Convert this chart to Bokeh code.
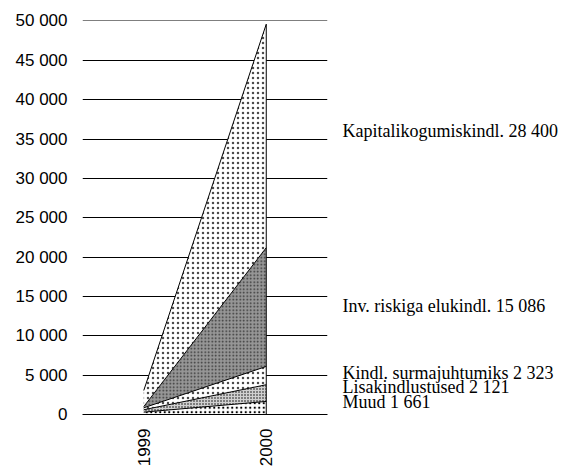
import numpy as np
from math import pi
from bokeh.plotting import figure
from bokeh.models import (Range1d, FactorRange, SingleIntervalTicker, CustomJSTickFormatter,
                          LinearAxis, FixedTicker, AllLabels)
from bokeh.embed import file_html
from bokeh.resources import INLINE

# ---- data ----
years = ["1999", "2000"]
series_names = ["Muud", "Lisakindlustused", "Kindl. surmajuhtumiks",
                "Inv. riskiga elukindl.", "Kapitalikogumiskindl."]
muud = [300, 1661]
lisakindlustused = [300, 2121]
surmajuhtumiks = [250, 2323]
inv_riskiga = [150, 15086]
kapitalikogumis = [2050, 28400]
y_ticks_max = 50000
y_tick_step = 5000

series = [muud, lisakindlustused, surmajuhtumiks, inv_riskiga, kapitalikogumis]

# styles (bottom -> top)
styles = [
    dict(fill_color="white", hatch_pattern="dot", hatch_color="black", hatch_scale=4.5, hatch_weight=2.4),
    dict(fill_color="#d0d0d0", hatch_pattern="dot", hatch_color="black", hatch_scale=3, hatch_weight=2.6),
    dict(fill_color="white", hatch_pattern="dot", hatch_color="#4a4a4a", hatch_scale=5, hatch_weight=3.4),
    dict(fill_color="#969696", hatch_pattern="dot", hatch_color="#333333", hatch_scale=3.5, hatch_weight=2.2),
    dict(fill_color="white", hatch_pattern="dot", hatch_color="#4a4a4a", hatch_scale=5, hatch_weight=3.4),
]

W, H = 567, 469
FRAME_TOP, FRAME_BOTTOM, FRAME_LEFT, FRAME_RIGHT = 20, 414, 82, 327
p = figure(width=W, height=H, x_range=FactorRange(*years, range_padding=0),
           y_range=Range1d(0, y_ticks_max * 1.0012), output_backend="svg",
           toolbar_location=None, min_border_left=FRAME_LEFT, min_border_right=W - FRAME_RIGHT,
           min_border_top=FRAME_TOP, min_border_bottom=H - FRAME_BOTTOM)
p.outline_line_color = None
p.background_fill_color = "white"
p.border_fill_color = "white"

# grid
p.xgrid.grid_line_color = None
p.ygrid.grid_line_color = "black"
p.ygrid.grid_line_width = 1

p.yaxis.ticker = SingleIntervalTicker(interval=y_tick_step)
p.yaxis.formatter = CustomJSTickFormatter(code="""
    return Math.round(tick).toString().replace(/\\B(?=(\\d{3})+(?!\\d))/g, " ");
""")
p.yaxis.axis_line_color = None
p.yaxis.major_tick_line_color = None
p.yaxis.minor_tick_line_color = None
p.yaxis.major_tick_out = 0
p.yaxis.major_tick_in = 0
p.yaxis.minor_tick_out = 0
p.yaxis.major_label_standoff = 15
p.yaxis.major_label_text_font = "Liberation Sans"
p.yaxis.major_label_text_font_size = "17px"
p.yaxis.major_label_text_color = "black"

p.xaxis.axis_line_color = "black"
p.xaxis.major_tick_line_color = None
p.xaxis.minor_tick_line_color = None
p.xaxis.major_tick_out = 0
p.xaxis.major_tick_in = 0
p.xaxis.major_label_orientation = pi / 2
p.xaxis.major_label_standoff = 14
p.xaxis.major_label_text_font = "Liberation Sans"
p.xaxis.major_label_text_font_size = "17px"
p.xaxis.major_label_text_color = "black"

# stacked areas
lower = np.zeros(len(years))
bounds = []
for vals, st in zip(series, styles):
    upper = lower + np.array(vals, dtype=float)
    p.varea(x=years, y1=lower.tolist(), y2=upper.tolist(), **st)
    bounds.append((lower.copy(), upper.copy()))
    lower = upper

# outlines
for lo, up in bounds:
    p.line(x=years, y=up.tolist(), line_color="black", line_width=1)
total = lower
p.segment(x0=[years[-1]], y0=[0], x1=[years[-1]], y1=[float(total[-1])],
          line_color="black", line_width=1)

# right-hand series labels (last-year values), placed at the middle of each band
def fmt(v):
    return f"{v:,}".replace(",", " ")

px_per_unit = (FRAME_BOTTOM - FRAME_TOP) / y_ticks_max
nudge_px = [5.5, 6, 3, 1.5, 4.5]   # small upward nudges (screen px)
label_pos = [float((lo[-1] + up[-1]) / 2) + n / px_per_unit for (lo, up), n in zip(bounds, nudge_px)]
label_txt = [f"{n} {fmt(s[-1])}" for n, s in zip(series_names, series)]

raxis = LinearAxis(ticker=FixedTicker(ticks=label_pos),
                   major_label_overrides={pos: t for pos, t in zip(label_pos, label_txt)},
                   major_label_policy=AllLabels(),
                   axis_line_color=None, major_tick_line_color=None, minor_tick_line_color=None,
                   major_tick_out=0, major_tick_in=0, minor_tick_out=0,
                   major_label_standoff=15,
                   major_label_text_font="Liberation Serif",
                   major_label_text_font_size="18px",
                   major_label_text_color="black")
p.add_layout(raxis, "right")

open("out.html", "w").write(file_html(p, INLINE))
